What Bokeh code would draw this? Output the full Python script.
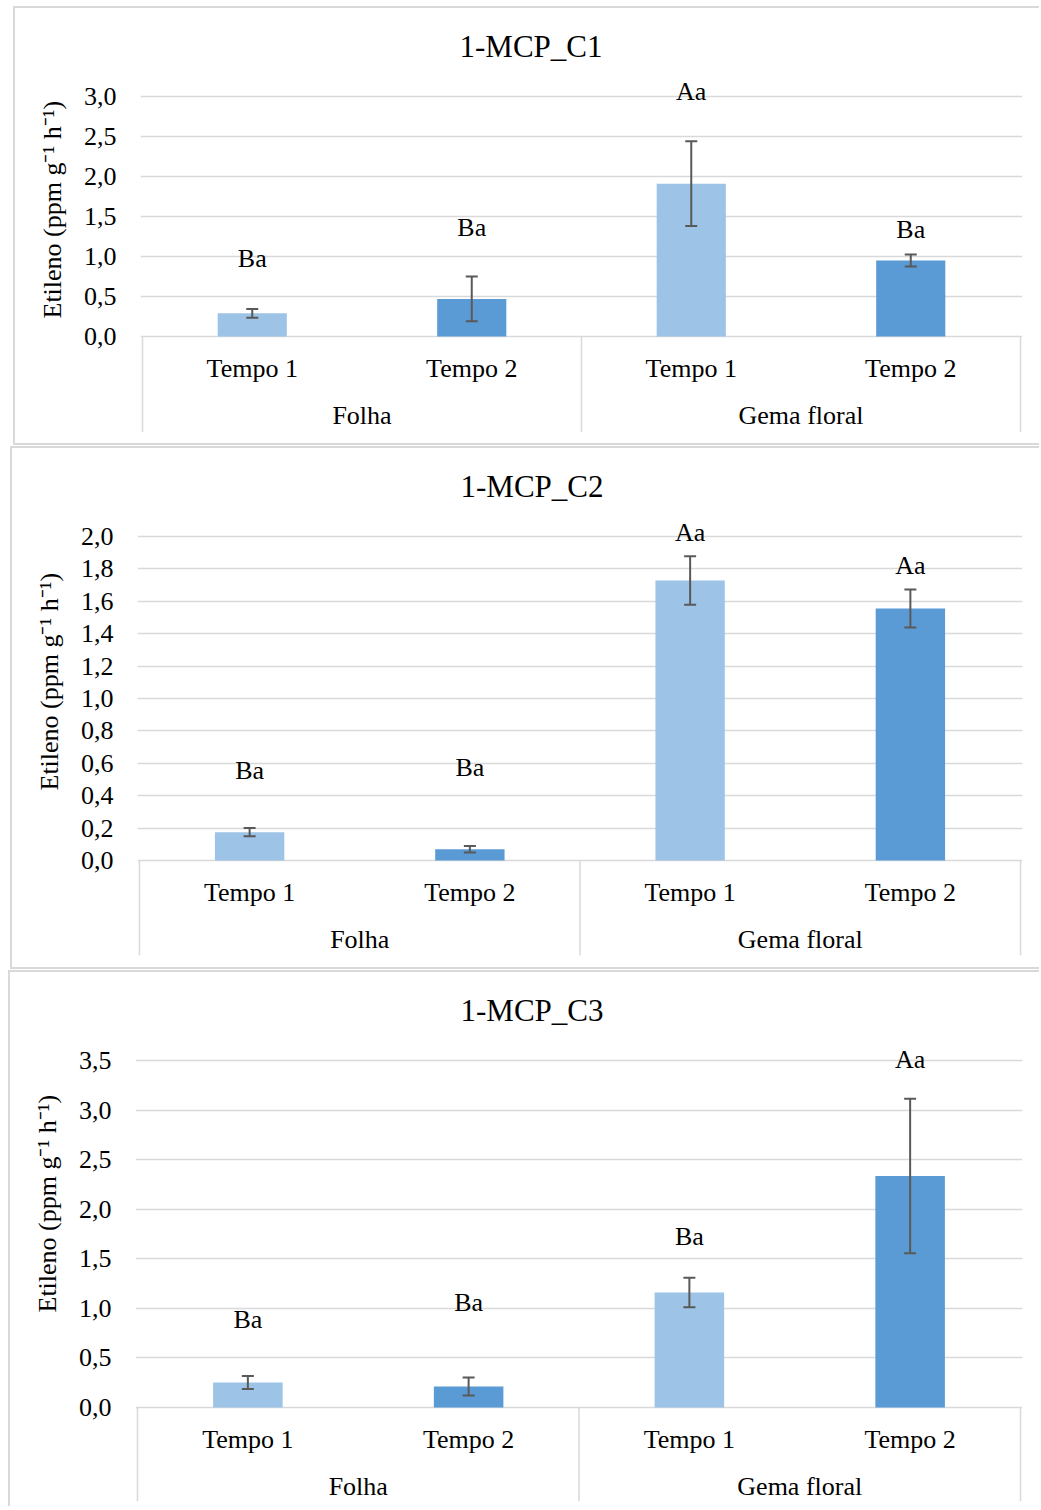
from bokeh.plotting import figure
from bokeh.models import (ColumnDataSource, Whisker, TeeHead, FixedTicker, Range1d,
                          Title, CustomJSTickFormatter)
from bokeh.layouts import column
from bokeh.embed import file_html
from bokeh.resources import INLINE
from bokeh.core.properties import value

# ---------------- data ----------------
tissues = ["Folha", "Gema floral"]
times = ["Tempo 1", "Tempo 2"]
y_label = "Etileno (ppm g\u207b\u00b9 h\u207b\u00b9)"

c1_title = "1-MCP_C1"
c1_mean = [0.29, 0.47, 1.91, 0.95]
c1_err = [0.055, 0.28, 0.53, 0.075]
c1_letters = ["Ba", "Ba", "Aa", "Ba"]
c1_letter_y = [0.975, 1.36, 3.06, 1.34]
c1_ticks = [0.0, 0.5, 1.0, 1.5, 2.0, 2.5, 3.0]

c2_title = "1-MCP_C2"
c2_mean = [0.175, 0.07, 1.728, 1.556]
c2_err = [0.025, 0.02, 0.15, 0.117]
c2_letters = ["Ba", "Ba", "Aa", "Aa"]
c2_letter_y = [0.556, 0.574, 2.025, 1.82]
c2_ticks = [0.0, 0.2, 0.4, 0.6, 0.8, 1.0, 1.2, 1.4, 1.6, 1.8, 2.0]

c3_title = "1-MCP_C3"
c3_mean = [0.252, 0.212, 1.16, 2.335]
c3_err = [0.065, 0.09, 0.15, 0.78]
c3_letters = ["Ba", "Ba", "Ba", "Aa"]
c3_letter_y = [0.888, 1.059, 1.725, 3.51]
c3_ticks = [0.0, 0.5, 1.0, 1.5, 2.0, 2.5, 3.0, 3.5]

# ---------------- style ----------------
FONT_NAME = "Liberation Serif"
FONT = value(FONT_NAME)
LIGHT = "#9DC3E6"
DARK = "#5B9BD5"
GRID = "#D9D9D9"
ERR = "#595959"
TXT = "#000000"
BORDER = "2px solid #D9D9D9"


def panel(title, mean, err, letters, letter_y, ticks, geom, css):
    (w, h, fl, fr, ft, fb, y0px, px_per_unit, title_off, ylab_off) = geom
    ymax = ticks[-1]
    y_top = (y0px - ft) / px_per_unit
    y_bot = -(fb - y0px) / px_per_unit
    x_pad = 2.0 / ((fr - fl - 4) / 4.0)

    p = figure(width=w, height=h, output_backend="svg", toolbar_location=None,
               x_axis_location=None, tools="",
               x_range=Range1d(-x_pad, 4 + x_pad), y_range=Range1d(y_bot, y_top),
               min_border_left=fl, min_border_right=w - fr,
               min_border_top=ft, min_border_bottom=h - fb,
               outline_line_color=None, background_fill_color=None,
               border_fill_color=None)
    p.styles = css

    p.title = Title(text=title, align="left", offset=title_off, text_font=FONT_NAME,
                    text_font_size="31px", text_font_style="normal",
                    text_color=TXT, standoff=22)

    xs = [0.5, 1.5, 2.5, 3.5]
    colors = [LIGHT, DARK, LIGHT, DARK]
    src = ColumnDataSource(dict(x=xs, top=mean, color=colors,
                                upper=[m + e for m, e in zip(mean, err)],
                                lower=[m - e for m, e in zip(mean, err)],
                                lab=letters, laby=letter_y))

    # grid
    p.xgrid.visible = False
    p.ygrid.ticker = FixedTicker(ticks=ticks)
    p.ygrid.grid_line_color = GRID
    p.ygrid.grid_line_width = 1.5

    # y axis
    ax = p.yaxis[0]
    ax.ticker = FixedTicker(ticks=ticks)
    ax.bounds = (0, ymax)
    ax.formatter = CustomJSTickFormatter(code="return tick.toFixed(1).replace('.', ',');")
    ax.axis_line_color = None
    ax.major_tick_line_color = None
    ax.minor_tick_line_color = None
    ax.major_tick_in = 0
    ax.major_tick_out = 0
    ax.major_label_standoff = 24
    ax.major_label_text_font = FONT_NAME
    ax.major_label_text_font_size = "26px"
    ax.major_label_text_color = TXT

    # y axis title (placed beside the axis, aligned to the value range)
    yt = Title(text=y_label, align="left", offset=ylab_off, text_font=FONT_NAME,
               text_font_size="26px", text_font_style="normal", text_color=TXT,
               standoff=28)
    p.add_layout(yt, "left")

    # bars
    p.vbar(x="x", top="top", width=0.315, bottom=0, fill_color="color",
           line_color=None, source=src)

    # error bars
    wk = Whisker(base="x", upper="upper", lower="lower", source=src,
                 line_color=ERR, line_width=2, level="annotation",
                 upper_head=TeeHead(size=12, line_color=ERR, line_width=2),
                 lower_head=TeeHead(size=12, line_color=ERR, line_width=2))
    p.add_layout(wk)

    # significance letters
    p.text(x="x", y="laby", text="lab", source=src, text_font=FONT,
           text_font_size="26px", text_color=TXT, text_align="center",
           text_baseline="middle")

    # category box: separators
    p.segment(x0=[0, 2, 4], y0=[0, 0, 0], x1=[0, 2, 4], y1=[y_bot, y_bot, y_bot],
              line_color=GRID, line_width=1.5)
    # tick labels (times) and group labels (tissues)
    p.text(x=xs, y=[0] * 4, text=times * 2, y_offset=32, text_font=FONT,
           text_font_size="26px", text_color=TXT, text_align="center",
           text_baseline="middle")
    p.text(x=[1, 3], y=[0, 0], text=tissues, y_offset=79, text_font=FONT,
           text_font_size="26px", text_color=TXT, text_align="center",
           text_baseline="middle")
    return p


# geometry: (width, height, frame_left, frame_right, frame_top, frame_bottom,
#            zero_px, px_per_unit, title_offset, ylabel_offset)
g1 = (1026, 439, 125, 1007, 66, 424, 328, 80.0, 319, 114)
g2 = (1029, 523, 124, 1012, 66, 507, 412, 162.0, 323, 165)
g3 = (1031, 536, 124, 1016, 66, 529, 435, 99.14, 325, 189)

css1 = {"border-left": BORDER, "border-top": BORDER, "border-bottom": BORDER,
        "margin-left": "13px", "margin-top": "6px", "overflow": "hidden"}
css2 = {"border-left": BORDER, "border-top": BORDER, "border-bottom": BORDER,
        "margin-left": "10px", "margin-top": "1px", "overflow": "hidden"}
css3 = {"border-left": BORDER, "border-top": BORDER,
        "margin-left": "8px", "margin-top": "1px", "overflow": "hidden"}

p1 = panel(c1_title, c1_mean, c1_err, c1_letters, c1_letter_y, c1_ticks, g1, css1)
p2 = panel(c2_title, c2_mean, c2_err, c2_letters, c2_letter_y, c2_ticks, g2, css2)
p3 = panel(c3_title, c3_mean, c3_err, c3_letters, c3_letter_y, c3_ticks, g3, css3)

layout = column(p1, p2, p3, spacing=0)
open("out.html", "w").write(file_html(layout, INLINE))
